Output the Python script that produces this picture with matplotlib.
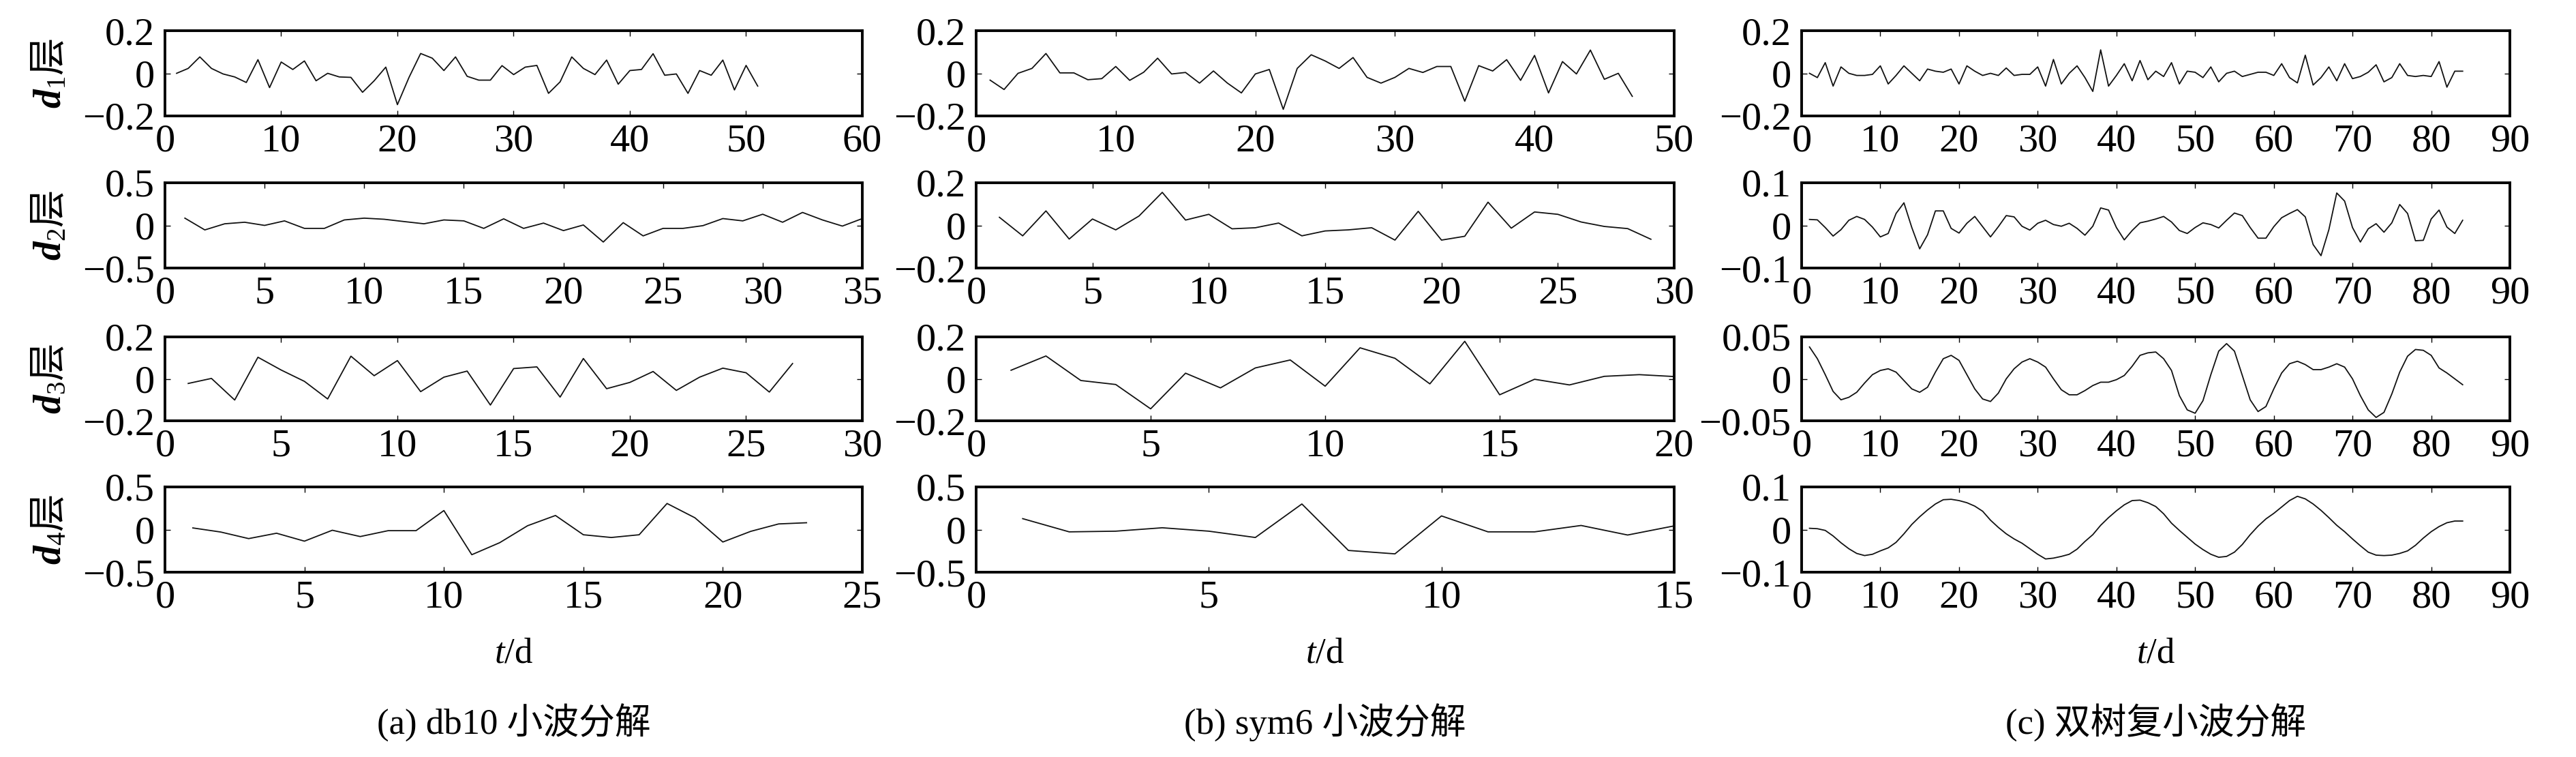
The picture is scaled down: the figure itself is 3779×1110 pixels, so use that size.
import matplotlib
matplotlib.use("Agg")
import matplotlib.pyplot as plt
import numpy as np

plt.rcParams['font.family'] = ['Liberation Serif', 'Noto Sans CJK SC']
plt.rcParams['mathtext.fontset'] = 'custom'
plt.rcParams['mathtext.rm'] = 'Liberation Serif'
plt.rcParams['mathtext.it'] = 'Liberation Serif:italic'
plt.rcParams['mathtext.bf'] = 'Liberation Serif:bold'
plt.rcParams['mathtext.bfit'] = 'Liberation Serif:italic:bold'

# ---- data (x = 1, 2, 3, ...) ----
# (a) db10
db10_d1 = [0.0, 0.023, 0.077, 0.023, -0.003, -0.017, -0.043, 0.064, -0.067, 0.053,
           0.018, 0.058, -0.035, 0.0, -0.017, -0.019, -0.089, -0.035, 0.029, -0.147,
           -0.019, 0.093, 0.071, 0.013, 0.077, -0.014, -0.032, -0.032, 0.036, -0.006,
           0.029, 0.037, -0.094, -0.04, 0.077, 0.023, -0.006, 0.062, -0.051, 0.013,
           0.018, 0.092, -0.009, -0.003, -0.094, 0.013, -0.009, 0.062, -0.078, 0.037, -0.06]
db10_d2 = [0.085, -0.053, 0.019, 0.037, 0.0, 0.053, -0.035, -0.035, 0.064, 0.085,
           0.072, 0.045, 0.019, 0.064, 0.053, -0.035, 0.077, -0.035, 0.027, -0.061,
           0.005, -0.195, 0.032, -0.123, -0.035, -0.035, -0.003, 0.08, 0.053, 0.131,
           0.037, 0.152, 0.064, -0.008, 0.08]
db10_d3 = [-0.022, 0.002, -0.101, 0.103, 0.042, -0.012, -0.096, 0.108, 0.015, 0.087,
           -0.061, 0.008, 0.037, -0.125, 0.049, 0.057, -0.087, 0.097, -0.047, -0.017,
           0.035, -0.055, 0.008, 0.051, 0.029, -0.063, 0.073]
db10_d4 = [0.019, -0.029, -0.106, -0.043, -0.136, -0.008, -0.082, -0.013, -0.013, 0.223,
           -0.295, -0.154, 0.045, 0.165, -0.061, -0.093, -0.061, 0.306, 0.138, -0.146,
           -0.021, 0.066, 0.08]

# (b) sym6
sym6_d1 = [-0.032, -0.076, 0.0, 0.023, 0.093, 0.002, 0.002, -0.03, -0.025, 0.032,
           -0.033, 0.005, 0.071, -0.003, 0.004, -0.046, 0.011, -0.046, -0.092, -0.003,
           0.018, -0.169, 0.023, 0.087, 0.058, 0.023, 0.074, -0.019, -0.046, -0.019,
           0.023, 0.004, 0.032, 0.032, -0.131, 0.036, 0.011, 0.064, -0.033, 0.084,
           -0.092, 0.055, -0.003, 0.109, -0.028, 0.0, -0.108]
sym6_d2 = [0.038, -0.049, 0.068, -0.064, 0.03, -0.021, 0.044, 0.155, 0.025, 0.052,
           -0.016, -0.011, 0.011, -0.049, -0.026, -0.021, -0.011, -0.069, 0.066, -0.069,
           -0.051, 0.109, -0.013, 0.063, 0.052, 0.016, -0.005, -0.015, -0.065]
sym6_d3 = [0.041, 0.109, -0.008, -0.027, -0.143, 0.027, -0.043, 0.052, 0.09, -0.035,
           0.148, 0.098, -0.024, 0.179, -0.076, -0.002, -0.029, 0.012, 0.02, 0.011]
sym6_d4 = [0.128, -0.027, -0.019, 0.021, -0.019, -0.093, 0.3, -0.245, -0.285, 0.16,
           -0.027, -0.027, 0.048, -0.064, 0.043]

# (c) dual-tree complex wavelet
dt_d1 = [0.0, -0.02, 0.05, -0.06, 0.03, 0.0, -0.01, -0.01, -0.005, 0.035,
         -0.05, -0.01, 0.035, 0.0, -0.035, 0.02, 0.01, 0.005, 0.02, -0.05,
         0.035, 0.01, -0.01, 0.0, -0.01, 0.025, -0.01, -0.005, -0.005, 0.03,
         -0.06, 0.065, -0.05, 0.0, 0.035, -0.02, -0.085, 0.11, -0.06, -0.01,
         0.045, -0.035, 0.06, -0.03, 0.01, -0.015, 0.05, -0.05, 0.01, 0.005,
         -0.02, 0.03, -0.04, 0.0, 0.01, -0.015, -0.005, 0.005, 0.005, -0.01,
         0.045, -0.02, -0.045, 0.085, -0.055, -0.02, 0.03, -0.035, 0.045, -0.025,
         -0.015, 0.005, 0.04, -0.04, -0.02, 0.045, -0.01, -0.015, -0.01, -0.015,
         0.055, -0.065, 0.01, 0.01]
dt_d2 = [0.014, 0.013, -0.005, -0.025, -0.01, 0.012, 0.021, 0.014, -0.004, -0.027,
         -0.019, 0.028, 0.053, -0.005, -0.055, -0.022, 0.034, 0.034, -0.007, -0.018,
         0.005, 0.021, -0.003, -0.027, -0.003, 0.023, 0.02, -0.002, -0.011, 0.005,
         0.012, 0.002, -0.002, 0.005, -0.007, -0.023, -0.002, 0.041, 0.036, -0.005,
         -0.034, -0.012, 0.006, 0.01, 0.015, 0.021, 0.008, -0.012, -0.019, -0.005,
         0.006, 0.002, -0.006, 0.012, 0.029, 0.023, -0.005, -0.03, -0.03, -0.003,
         0.018, 0.028, 0.037, 0.02, -0.045, -0.071, -0.01, 0.076, 0.057, -0.005,
         -0.039, -0.008, 0.004, -0.016, 0.006, 0.049, 0.028, -0.036, -0.035, 0.015,
         0.036, -0.004, -0.019, 0.012]
dt_d3 = [0.038, 0.024, 0.005, -0.015, -0.025, -0.022, -0.016, -0.005, 0.005, 0.01,
         0.012, 0.008, -0.002, -0.012, -0.016, -0.01, 0.008, 0.024, 0.028, 0.022,
         0.005, -0.012, -0.024, -0.027, -0.017, 0.0, 0.012, 0.02, 0.024, 0.02,
         0.014, 0.0, -0.013, -0.019, -0.019, -0.014, -0.008, -0.004, -0.004, -0.001,
         0.004, 0.015, 0.028, 0.031, 0.032, 0.024, 0.01, -0.02, -0.037, -0.041,
         -0.026, 0.005, 0.033, 0.042, 0.033, 0.004, -0.025, -0.039, -0.033, -0.012,
         0.007, 0.018, 0.021, 0.017, 0.011, 0.011, 0.014, 0.018, 0.014, 0.0,
         -0.02, -0.037, -0.046, -0.04, -0.018, 0.008, 0.027, 0.035, 0.034, 0.028,
         0.013, 0.007, 0.0, -0.007]
dt_d4 = [0.003, 0.002, -0.002, -0.015, -0.031, -0.045, -0.056, -0.061, -0.058, -0.05,
         -0.043, -0.03, -0.01, 0.012, 0.03, 0.046, 0.06, 0.07, 0.071, 0.068,
         0.063, 0.055, 0.043, 0.022, 0.005, -0.01, -0.022, -0.032, -0.045, -0.058,
         -0.069, -0.067, -0.063, -0.058, -0.046, -0.028, -0.012, 0.01, 0.028, 0.044,
         0.058, 0.068, 0.069, 0.063, 0.054, 0.037, 0.015, -0.002, -0.018, -0.034,
         -0.047, -0.058, -0.065, -0.063, -0.053, -0.035, -0.012, 0.008, 0.025, 0.038,
         0.053, 0.068, 0.078, 0.072, 0.06, 0.045, 0.028, 0.01, -0.005, -0.022,
         -0.038, -0.053, -0.06, -0.061, -0.06, -0.056, -0.05, -0.037, -0.02, -0.005,
         0.007, 0.016, 0.02, 0.02]

series = [[db10_d1, db10_d2, db10_d3, db10_d4],
          [sym6_d1, sym6_d2, sym6_d3, sym6_d4],
          [dt_d1, dt_d2, dt_d3, dt_d4]]
xmax = [[60, 35, 30, 25], [50, 30, 20, 15], [90, 90, 90, 90]]
xstep = [[10, 5, 5, 5], [10, 5, 5, 5], [10, 10, 10, 10]]
ylim = [[0.2, 0.5, 0.2, 0.5], [0.2, 0.2, 0.2, 0.5], [0.2, 0.1, 0.05, 0.1]]
level_labels = [r'$\mathbfit{d}_1$层', r'$\mathbfit{d}_2$层',
                r'$\mathbfit{d}_3$层', r'$\mathbfit{d}_4$层']
captions = ['(a) db10 小波分解', '(b) sym6 小波分解', '(c) 双树复小波分解']

# ---- layout (pixels of the 3780x1110 canvas) ----
W, H = 3780, 1110
col_l = [242, 1432, 2643]
col_r = [1265, 2456, 3682]
row_t = [45, 268, 494, 714]
row_b = [170, 393, 617, 839]


def ylab(v):
    if v == 0:
        return '0'
    return f'{v:g}'.replace('-', '\u2212')


fig = plt.figure(figsize=(W / 100, H / 100), dpi=100)

for c in range(3):
    for r in range(4):
        ax = fig.add_axes([col_l[c] / W, 1 - row_b[r] / H,
                           (col_r[c] - col_l[c]) / W, (row_b[r] - row_t[r]) / H])
        y = series[c][r]
        x = np.arange(1, len(y) + 1)
        ax.plot(x, y, color='#111111', lw=1.3)
        ax.set_xlim(0, xmax[c][r])
        ax.set_ylim(-ylim[c][r], ylim[c][r])
        ax.set_xticks(np.arange(0, xmax[c][r] + 1, xstep[c][r]))
        yt = [-ylim[c][r], 0, ylim[c][r]]
        ax.set_yticks(yt)
        ax.set_yticklabels([ylab(v) for v in yt])
        ax.tick_params(direction='in', top=True, right=True, length=6, width=1.0,
                       labelsize=42, colors='black')
        ax.tick_params(axis='x', pad=8)
        ax.tick_params(axis='y', pad=11)
        for sp in ax.spines.values():
            sp.set_linewidth(2.8)

        if c == 0:
            fig.text(73 / W, 1 - (row_t[r] + row_b[r]) / 2 / H, level_labels[r],
                     rotation=90, ha='center', va='center', fontsize=40,
                     family='Noto Sans CJK SC')

    xc = (col_l[c] + col_r[c]) / 2 / W
    fig.text(xc, 1 - 958 / H, '$t$/d', ha='center', va='center', fontsize=38)
    fig.text(xc, 1 - 1060 / H, captions[c], ha='center', va='center', fontsize=38)

fig.savefig('out.png', dpi=100)
plt.close(fig)
